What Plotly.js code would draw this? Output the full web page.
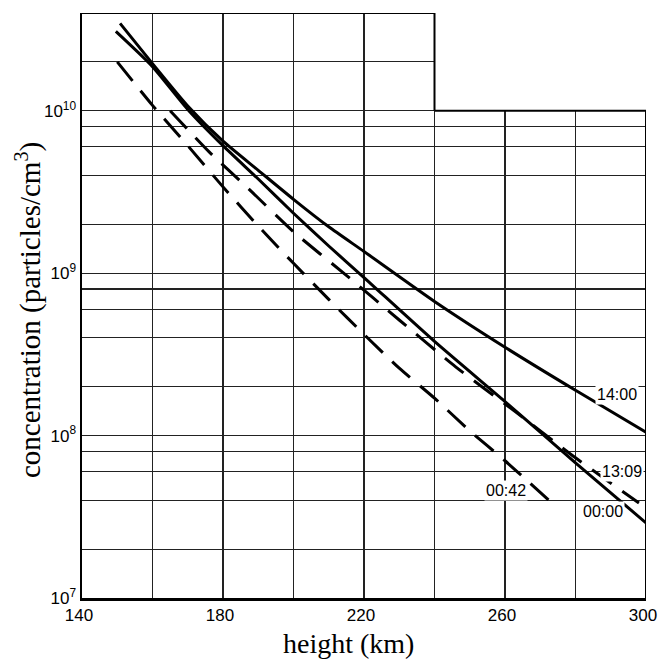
<!DOCTYPE html>
<html>
<head>
<meta charset="utf-8">
<script src="https://cdn.plot.ly/plotly-3.0.1.min.js"></script>
<style>html,body{margin:0;padding:0;background:#fff;}#chart{width:658px;height:660px;}</style>
</head>
<body>
<div id="chart"></div>
<script>
// ---- data (height in km, concentration in particles/cm^3) ----
const heights1400 = [150.8, 160, 170, 180, 190, 200, 210, 220, 240, 260, 280, 300];
const conc1400    = [3.45e10, 1.95e10, 1.07e10, 6.5e9, 4.3e9, 2.85e9, 1.93e9, 1.36e9, 6.7e8, 3.5e8, 1.9e8, 1.05e8];

const heights0000 = [149.6, 160, 170, 180, 190, 200, 210, 220, 240, 260, 280, 300];
const conc0000    = [3.08e10, 1.87e10, 1.02e10, 6.1e9, 3.8e9, 2.34e9, 1.47e9, 9.4e8, 3.8e8, 1.62e8, 6.8e7, 2.9e7];

const heights1309 = [165, 176, 187, 200, 215, 230, 246, 263, 280, 298];
const conc1309    = [1.0e10, 5.6e9, 3.35e9, 1.8e9, 9.7e8, 5.15e8, 2.65e8, 1.4e8, 7.3e7, 3.85e7];

const heights0042 = [150, 160, 170, 180, 190, 200, 210, 220, 230, 240, 250, 260, 273];
const conc0042    = [2.0e10, 1.08e10, 6.1e9, 3.4e9, 1.95e9, 1.15e9, 6.9e8, 4.2e8, 2.6e8, 1.7e8, 1.07e8, 7.0e7, 3.9e7];

const seriesNames = ['14:00', '00:00', '13:09', '00:42'];

// ---- ticks ----
const xTickVals = [140, 160, 180, 200, 220, 240, 260, 280, 300];
const xTickText = ['140', '', '180', '', '220', '', '260', '', '300'];
const yDecades = [7, 8, 9, 10];
const yMultipliers = [1, 2, 4, 6, 8];

const yTickVals = [];
const yTickText = [];
yDecades.forEach(d => {
  yMultipliers.forEach(m => {
    yTickVals.push(m * Math.pow(10, d));
    yTickText.push(m === 1 ? '10<sup>' + d + '</sup>' : '');
  });
});

const xRange = [140, 300];
const yTop = 4e10, yBottom = 1e7, yStep = 1e10, xStep = 240;

const solid = {color: '#000', width: 3, shape: 'spline', smoothing: 0.6};
const dashed = {color: '#000', width: 3, dash: '24px,13px', shape: 'spline', smoothing: 0.6};

const traces = [
  {x: heights1400, y: conc1400, name: seriesNames[0], mode: 'lines', line: solid},
  {x: heights0000, y: conc0000, name: seriesNames[1], mode: 'lines', line: solid},
  {x: heights1309, y: conc1309, name: seriesNames[2], mode: 'lines', line: dashed},
  {x: heights0042, y: conc0042, name: seriesNames[3], mode: 'lines', line: dashed}
];

const frameLine = {color: '#000', width: 2};
const shapes = [
  // mask the cut-away top-right corner of the grid
  {type: 'rect', xref: 'x', yref: 'y', x0: xStep, x1: xRange[1] + 2, y0: yStep, y1: yTop * 1.3,
   fillcolor: '#fff', line: {width: 0}, layer: 'above'},
  // stepped frame
  {type: 'line', xref: 'x', yref: 'y', x0: xRange[0], x1: xStep, y0: yTop, y1: yTop, line: frameLine, layer: 'above'},
  {type: 'line', xref: 'x', yref: 'y', x0: xStep, x1: xStep, y0: yTop, y1: yStep, line: frameLine, layer: 'above'},
  {type: 'line', xref: 'x', yref: 'y', x0: xStep, x1: xRange[1], y0: yStep, y1: yStep, line: frameLine, layer: 'above'},
  {type: 'line', xref: 'x', yref: 'y', x0: xRange[1], x1: xRange[1], y0: yStep, y1: yBottom, line: frameLine, layer: 'above'}
];

const labelFont = {family: 'Liberation Sans, Arial, sans-serif', size: 16, color: '#000'};
function lbl(text, x, y) {
  return {text: text, x: x, y: Math.log10(y), xref: 'x', yref: 'y', showarrow: false,
          font: labelFont, bgcolor: '#fff', borderpad: 1, xanchor: 'center', yanchor: 'middle'};
}
const titleFont = {family: 'Liberation Serif, Times New Roman, serif', size: 28, color: '#000'};

const annotations = [
  lbl(seriesNames[0], 291.8, 1.8e8),
  lbl(seriesNames[2], 293.2, 6.05e7),
  lbl(seriesNames[3], 260.3, 4.6e7),
  lbl(seriesNames[1], 287.8, 3.4e7),
  {text: 'height (km)', xref: 'paper', yref: 'paper', x: 0.473, y: -0.078, showarrow: false,
   xanchor: 'center', yanchor: 'middle', font: titleFont},
  {text: 'concentration (particles/cm<sup>3</sup>)', xref: 'paper', yref: 'paper', x: -0.096, y: 0.492,
   showarrow: false, textangle: -90, xanchor: 'center', yanchor: 'middle',
   font: {family: titleFont.family, size: 29, color: '#000'}}
];

const tickFont = {family: 'Liberation Sans, Arial, sans-serif', size: 17, color: '#000'};

const layout = {
  width: 658, height: 660,
  margin: {l: 82, r: 12, t: 13, b: 62},
  paper_bgcolor: '#fff', plot_bgcolor: '#fff',
  showlegend: false,
  xaxis: {
    range: xRange, tickmode: 'array', tickvals: xTickVals, ticktext: xTickText,
    ticks: '', showgrid: true, gridcolor: '#222', gridwidth: 1.2, zeroline: false,
    showline: true, linecolor: '#000', linewidth: 3, tickfont: tickFont,
    ticklabelshift: -3, ticklabeloverflow: 'allow'
  },
  yaxis: {
    type: 'log', range: [Math.log10(yBottom), Math.log10(yTop)],
    tickmode: 'array', tickvals: yTickVals, ticktext: yTickText,
    ticks: '', showgrid: true, gridcolor: '#222', gridwidth: 1.2, zeroline: false,
    showline: true, linecolor: '#000', linewidth: 2.5, tickfont: tickFont
  },
  shapes: shapes,
  annotations: annotations
};

Plotly.newPlot('chart', traces, layout, {staticPlot: true, displayModeBar: false});
</script>
</body>
</html>
